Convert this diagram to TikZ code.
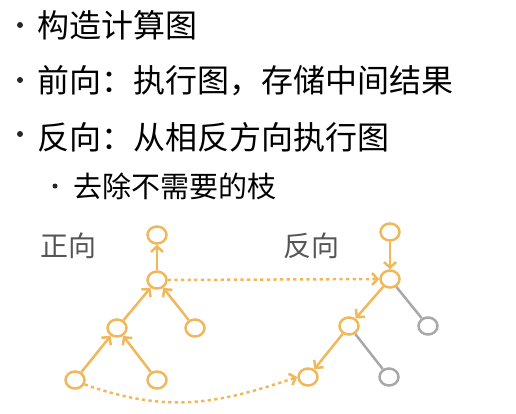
\documentclass[tikz,border=0pt]{standalone}
\usepackage{fontspec}
\usetikzlibrary{arrows.meta,shapes.geometric}
\newfontfamily\cjk{Noto Sans CJK SC}
\definecolor{O4}{RGB}{240,184,90}
\definecolor{G4}{RGB}{168,168,168}
\definecolor{T4}{RGB}{85,85,85}

\begin{document}
\begin{tikzpicture}[x=1pt, y=-1pt,
    txt/.style={anchor=west, inner sep=0pt, font=\cjk\fontsize{32}{32}\selectfont},
    subtxt/.style={txt, font=\cjk\fontsize{29}{29}\selectfont},
    lbl/.style={txt, T4, font=\cjk\fontsize{28}{28}\selectfont},
    bul/.style={circle, fill=black!85, inner sep=0pt, minimum size=6pt},
    vx/.style={ellipse, draw=O4, line width=2.5pt, minimum width=19pt, minimum height=17pt, inner sep=0pt},
    gx/.style={vx, draw=G4},
    fw/.style={O4, line width=2.5pt, -{Straight Barb[length=5.5pt,width=12pt]}},
    gl/.style={G4, line width=2.5pt},
    dt/.style={fw, dash pattern=on 3.3pt off 3.3pt}]
      \useasboundingbox (0,0) rectangle (516,413);
      \node[bul] (b1) at (20,25) {};
      \node[txt] (t1) at (37,25) {构造计算图};
      \node[bul] (b2) at (20,80) {};
      \node[txt] (t2) at (37,81) {前向：执行图，存储中间结果};
      \node[bul] (b3) at (20,134) {};
      \node[txt] (t3) at (37,137) {反向：从相反方向执行图};
      \node[bul, minimum size=5pt] (b4) at (55,186) {};
      \node[subtxt] (t4) at (73,186) {去除不需要的枝};
      \node[lbl] (lf) at (40,246) {正向};
      \node[lbl] (lb) at (283,246) {反向};
      \node[vx] (ftop) at (157,235) {};
      \node[vx] (fmid) at (157,280) {};
      \node[vx] (fl) at (117,328) {};
      \node[vx] (fr) at (195,328) {};
      \node[vx] (fbl) at (75,380) {};
      \node[vx] (fbr) at (157,380) {};
      \node[vx] (btop) at (390,232) {};
      \node[vx] (bmid) at (390,279) {};
      \node[vx] (bl) at (349,326) {};
      \node[gx] (br) at (428,326) {};
      \node[vx] (bbl) at (308,377) {};
      \node[gx] (bbr) at (389,377) {};
      \draw[fw] (fbl)--(fl); \draw[fw] (fbr)--(fl);
      \draw[fw] (fl)--(fmid); \draw[fw] (fr)--(fmid);
      \draw[fw] (fmid)--(ftop);
      \draw[fw] (btop)--(bmid); \draw[fw] (bmid)--(bl); \draw[fw] (bl)--(bbl);
      \draw[gl] (bmid)--(br); \draw[gl] (bl)--(bbr);
      \draw[dt] (fmid.east)--(bmid.west);
      \draw[dt] (fbl.-25) .. controls (166,413) and (215,405) .. (bbl.west);
\end{tikzpicture}
\end{document}
